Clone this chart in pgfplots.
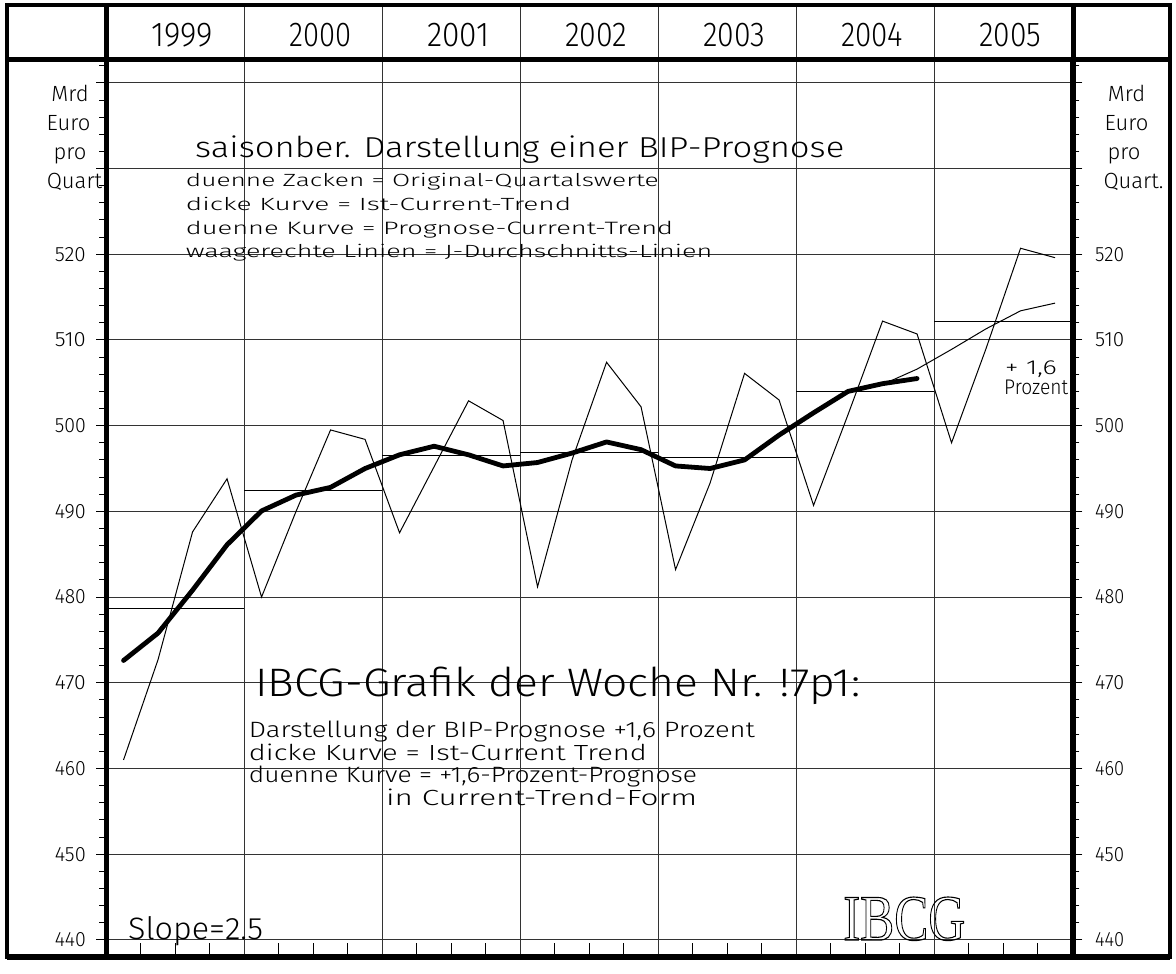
\documentclass[border=0pt]{standalone}
\usepackage{pgfplots}
\pgfplotsset{compat=1.18}
\usepackage{fontspec}
\IfFontExistsTF{FiraSans-Light.otf}{\setmainfont{FiraSans-Light.otf}}{%
  \IfFontExistsTF{Fira Sans Light}{\setmainfont{Fira Sans Light}}{\setmainfont{Liberation Sans}}}
\newfontfamily\serifibcg{Liberation Serif}
\newcommand\fs[1]{\fontsize{#1}{#1}\selectfont}
\newcommand\rtext[3]{\resizebox{#1pt}{#2pt}{\fs{20}#3}}
\begin{document}
\begin{tikzpicture}
\path (-106.3pt,-10pt) rectangle (1069.7pt,957pt);
\begin{axis}[
  at={(0pt,0pt)}, anchor=south west,
  scale only axis, width=966pt, height=897pt,
  xmin=0, xmax=28, ymin=438, ymax=542.67,
  axis line style={line width=5pt},
  xtick={4,8,...,24}, xticklabels={}, xmajorgrids,
  xtick style={draw=none},
  ytick={440,450,...,540}, yticklabels={},
  minor ytick={438,440,...,542},
  ymajorgrids,
  major grid style={black!80, line width=1pt},
  tick align=outside,
  major tick length=10pt, minor tick length=7pt,
  ytick style={black, line width=1pt},
  minor tick style={black, line width=1pt},
]
% year averages
\addplot[black, line width=1pt] coordinates {(0,478.65) (4,478.65)};
\addplot[black, line width=1pt] coordinates {(4,492.4) (8,492.4)};
\addplot[black, line width=1pt] coordinates {(8,496.5) (12,496.5)};
\addplot[black, line width=1pt] coordinates {(12,496.9) (16,496.9)};
\addplot[black, line width=1pt] coordinates {(16,496.3) (20,496.3)};
\addplot[black, line width=1pt] coordinates {(20,504.0) (24,504.0)};
\addplot[black, line width=1pt] coordinates {(24,512.1) (28,512.1)};
% original quarterly values
\addplot[black, line width=1pt] coordinates {
(0.5,461.0) (1.5,472.7) (2.5,487.6) (3.5,493.8)
(4.5,480.0) (5.5,490.0) (6.5,499.5) (7.5,498.4)
(8.5,487.5) (9.5,495.2) (10.5,502.9) (11.5,500.6)
(12.5,481.2) (13.5,496.0) (14.5,507.4) (15.5,502.2)
(16.5,483.2) (17.5,493.3) (18.5,506.1) (19.5,503.0)
(20.5,490.7) (21.5,501.3) (22.5,512.2) (23.5,510.7)
(24.5,498.0) (25.5,509.0) (26.5,520.7) (27.5,519.6)};
% prognose current trend
\addplot[black, line width=1pt] coordinates {
(18.5,496.0) (19.5,498.9) (20.5,501.5) (21.5,503.9) (22.5,504.8)
(23.5,506.6) (24.5,508.9) (25.5,511.3) (26.5,513.4) (27.5,514.3)};
% ist current trend
\addplot[black, line width=4.8pt, line join=round, line cap=round] coordinates {
(0.5,472.6) (1.5,475.8) (2.5,480.8) (3.5,486.1)
(4.5,490.05) (5.5,491.9) (6.5,492.8) (7.5,495.0)
(8.5,496.6) (9.5,497.6) (10.5,496.6) (11.5,495.3)
(12.5,495.7) (13.5,496.8) (14.5,498.1) (15.5,497.2)
(16.5,495.3) (17.5,495.0) (18.5,496.0) (19.5,498.9)
(20.5,501.5) (21.5,504.0) (22.5,504.9) (23.5,505.5)};
\end{axis}
% frame and header
\foreach \k in {1,...,6} \draw[black!80, line width=1pt] ({138*\k*1pt},897pt) -- ({138*\k*1pt},952pt);
\draw[line width=4pt] (-99.3pt,0pt) rectangle (1063.7pt,952pt);
\draw[line width=5pt] (-99.3pt,897pt) -- (1063.7pt,897pt);
\draw[line width=5pt] (0pt,0pt) -- (0pt,952pt);
\draw[line width=5pt] (967pt,0pt) -- (967pt,952pt);
\draw[line width=6pt] (-99.3pt,0pt) -- (1063.7pt,0pt);
% quarter ticks
\foreach \j in {1,2,3,5,6,7,9,10,11,13,14,15,17,18,19,21,22,23,25,26,27}
  \draw[line width=1pt] ({34.5*\j*1pt},0pt) -- ++(0pt,14pt);
% years
\foreach \yr [count=\k from 0] in {1999,2000,2001,2002,2003,2004,2005}
  \node[anchor=base, inner sep=0pt] at ({(76+138*\k)*1pt},910.3pt) {\rtext{62}{23.3}{\yr}};
% y tick labels
\foreach \v in {440,450,...,520} {
  \node[anchor=east, inner sep=0pt] at (-20.3pt,{(\v-438)*8.5698pt}) {\rtext{31}{14}{\v}};
  \node[anchor=west, inner sep=0pt] at (988.7pt,{(\v-438)*8.5698pt}) {\rtext{29}{14}{\v}};
}
% unit labels
\begin{scope}[every node/.style={anchor=base, inner sep=0pt, font=\fs{22}}]
\node at (-36.3pt,855.3pt) {Mrd};
\node at (-37.8pt,826.5pt) {Euro};
\node at (-36.3pt,797.7pt) {pro};
\node at (-31.8pt,768.7pt) {Quart};
\node at (1020.2pt,855.3pt) {Mrd};
\node at (1020.2pt,826.5pt) {Euro};
\node at (1017.7pt,797.7pt) {pro};
\node at (1027.2pt,768.7pt) {Quart.};
\end{scope}
% texts in plot
\begin{scope}[every node/.style={anchor=base west, inner sep=0pt}]
\node at (88.7pt,799.3pt) {\rtext{649}{21.7}{saisonber. Darstellung einer BIP-Prognose}};
\node at (79.4pt,770.3pt) {\rtext{472.9}{13.3}{duenne Zacken = Original-Quartalswerte}};
\node at (79.4pt,746.3pt) {\rtext{385.3}{13.3}{dicke Kurve = Ist-Current-Trend}};
\node at (79.4pt,722.7pt) {\rtext{487.2}{13.3}{duenne Kurve = Prognose-Current-Trend}};
\node at (79.4pt,699.3pt) {\rtext{526.3}{13.3}{waagerechte Linien = J-Durchschnitts-Linien}};
\node at (148.7pt,260pt) {\rtext{605}{29.5}{IBCG-Grafik der Woche Nr. !7p1:}};
\node at (142.4pt,219pt) {\rtext{506}{16.5}{Darstellung der BIP-Prognose +1,6 Prozent}};
\node at (142.4pt,196pt) {\rtext{398}{16.5}{dicke Kurve = Ist-Current Trend}};
\node at (142.4pt,174pt) {\rtext{448}{16.5}{duenne Kurve = +1,6-Prozent-Prognose}};
\node at (279.7pt,151pt) {\rtext{311}{16.5}{in Current-Trend-Form}};
\node at (21.7pt,17pt) {\rtext{135}{23}{Slope=2.5}};
\node at (898.7pt,582.5pt) {\rtext{51.7}{13.7}{+ 1,6}};
\node at (897.7pt,562pt) {\rtext{64}{14.5}{Prozent}};
\node at (736.7pt,17pt) {\resizebox{122pt}{43pt}{\special{pdf:literal direct 1 Tr 1.1 w}\serifibcg\fs{64}IBCG\special{pdf:literal direct 0 Tr}}};
\end{scope}
\end{tikzpicture}
\end{document}
